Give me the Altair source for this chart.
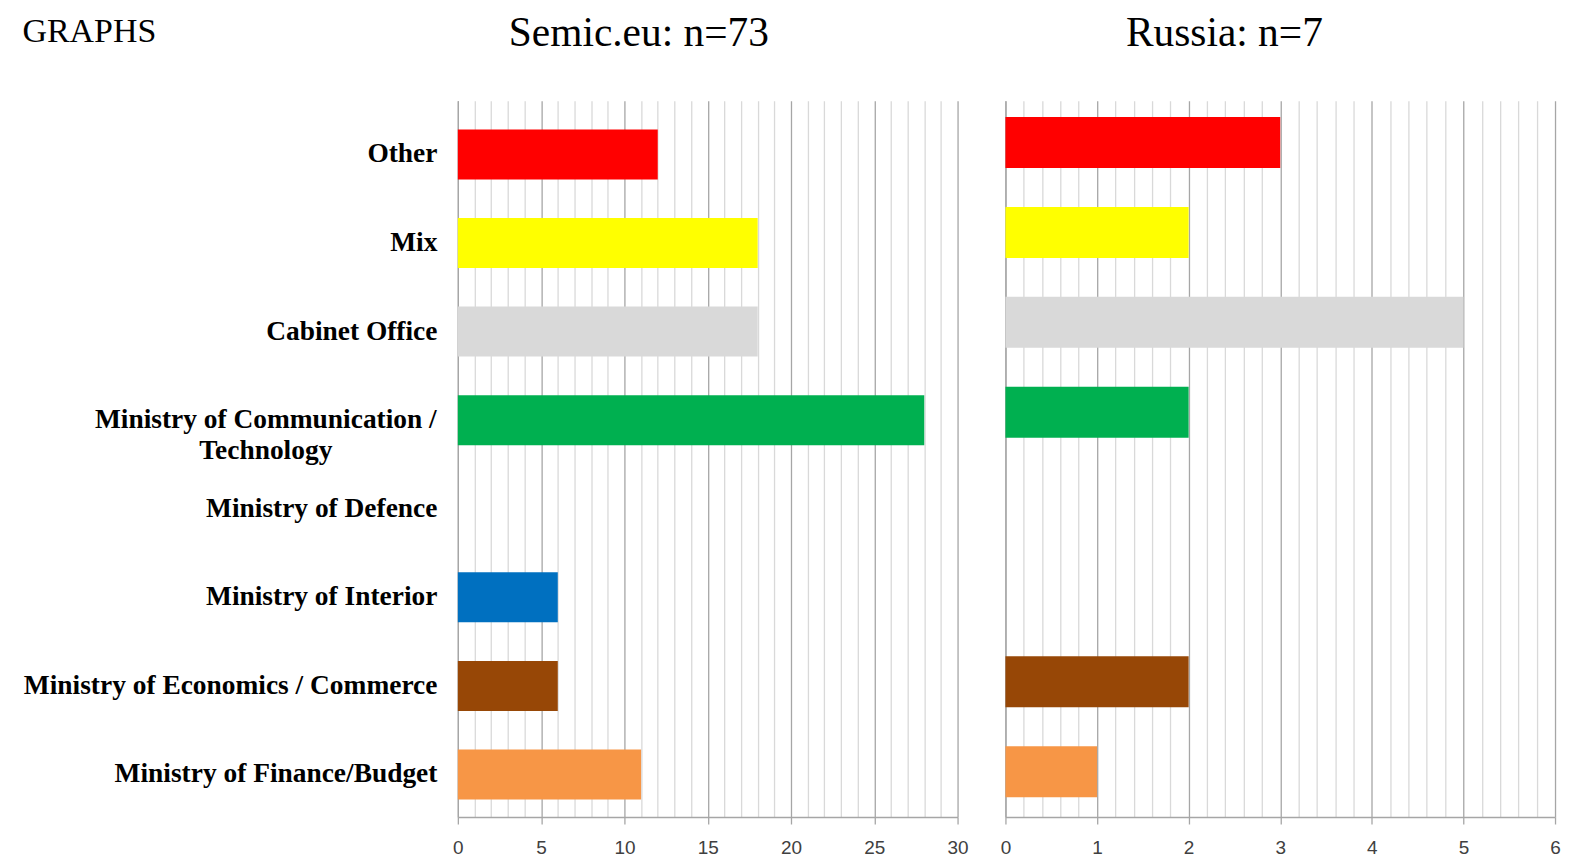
import altair as alt
import pandas as pd

categories = [
    "Other",
    "Mix",
    "Cabinet Office",
    "Ministry of Communication / Technology",
    "Ministry of Defence",
    "Ministry of Interior",
    "Ministry of Economics / Commerce",
    "Ministry of Finance/Budget",
]
semic_values = [12, 18, 18, 28, 0, 6, 6, 11]
russia_values = [3, 2, 5, 2, 0, 0, 2, 1]
bar_colors = ["#FF0000", "#FFFF00", "#D9D9D9", "#00B050", "#7F7F7F", "#0070C0", "#974706", "#F79646"]

semic_ticks = list(range(0, 31))
russia_ticks = [round(i * 0.2, 1) for i in range(0, 31)]

wrapped_label = categories[3]
line1 = "Ministry of Communication /"
line2 = "Technology"

semic_df = pd.DataFrame({"category": categories, "value": semic_values})
russia_df = pd.DataFrame({"category": categories, "value": russia_values})

MAJOR_GRID = "#a6a6a6"
MINOR_GRID = "#d9d9d9"
LABEL_SIZE = 27.5
LABEL_PAD = 21
PLOT_H = 718
PANEL_TITLE_Y = -(PLOT_H + 55)

color_scale = alt.Scale(domain=categories, range=bar_colors)


def x_axis(ticks, major_test, title, title_x):
    return alt.Axis(
        values=ticks,
        title=title,
        titleFont="Liberation Serif",
        titleFontSize=41.5,
        titleFontWeight="normal",
        titleColor="black",
        titleAlign="center",
        titleBaseline="alphabetic",
        titleX=title_x,
        titleY=PANEL_TITLE_Y,
        labelExpr=f"({major_test}) ? format(datum.value, 'd') : ''",
        labelFont="Liberation Sans",
        labelFontSize=19,
        labelColor="#404040",
        labelFlush=False,
        labelOverlap=False,
        labelPadding=15,
        grid=True,
        gridColor={"condition": {"test": major_test, "value": MAJOR_GRID}, "value": MINOR_GRID},
        gridWidth=1.3,
        tickColor=MAJOR_GRID,
        tickSize=7,
        tickWidth=1.3,
        tickOpacity={"condition": {"test": major_test, "value": 1}, "value": 0},
        domainColor=MAJOR_GRID,
        domainWidth=1.3,
    )


is_wrapped = f"datum.value == '{wrapped_label}'"

left = (
    alt.Chart(semic_df)
    .mark_bar()
    .encode(
        x=alt.X(
            "value:Q",
            scale=alt.Scale(domain=[0, 30], nice=False),
            axis=x_axis(semic_ticks, "datum.value % 5 === 0", "Semic.eu: n=73", 181),
        ),
        y=alt.Y(
            "category:N",
            sort=categories,
            scale=alt.Scale(domain=categories, paddingInner=0.435, paddingOuter=0.26, align=0.62),
            axis=alt.Axis(
                title="GRAPHS",
                titleFont="Liberation Serif",
                titleFontSize=34,
                titleFontWeight="normal",
                titleColor="black",
                titleAngle=0,
                titleAlign="left",
                titleBaseline="alphabetic",
                titleX=-437,
                titleY=-60,
                labelExpr=f"datum.label == '{wrapped_label}' ? ['{line1}', '{line2}'] : datum.label",
                labelFont="Liberation Serif",
                labelFontWeight="bold",
                labelFontSize=LABEL_SIZE,
                labelColor="black",
                labelLineHeight=31,
                labelAlign={"condition": {"test": is_wrapped, "value": "center"}, "value": "right"},
                labelPadding={"condition": {"test": is_wrapped, "value": LABEL_PAD + 172}, "value": LABEL_PAD},
                labelLimit=0,
                ticks=False,
                grid=False,
                domainColor=MAJOR_GRID,
                domainWidth=1.3,
            ),
        ),
        color=alt.Color("category:N", scale=color_scale, legend=None),
    )
    .properties(width=501, height=PLOT_H)
)

right = (
    alt.Chart(russia_df)
    .mark_bar()
    .encode(
        x=alt.X(
            "value:Q",
            scale=alt.Scale(domain=[0, 6], nice=False),
            axis=x_axis(
                russia_ticks,
                "abs(datum.value - round(datum.value)) < 0.000001",
                "Russia: n=7",
                219,
            ),
        ),
        y=alt.Y(
            "category:N",
            sort=categories,
            scale=alt.Scale(domain=categories, paddingInner=0.432, paddingOuter=0.2, align=0.45),
            axis=alt.Axis(
                title=None,
                labels=False,
                ticks=False,
                grid=False,
                domainColor=MAJOR_GRID,
                domainWidth=1.3,
            ),
        ),
        color=alt.Color("category:N", scale=color_scale, legend=None),
    )
    .properties(width=551, height=PLOT_H)
)

chart = (
    alt.hconcat(left, right, spacing=31)
    .resolve_scale(x="independent", y="independent", color="shared")
    .configure_view(stroke=None)
    .properties(
        background="white",
        padding={"left": 14, "top": 4, "right": 5, "bottom": 3},
    )
)

chart.save("out.html", embed_options={"renderer": "svg", "actions": False})
